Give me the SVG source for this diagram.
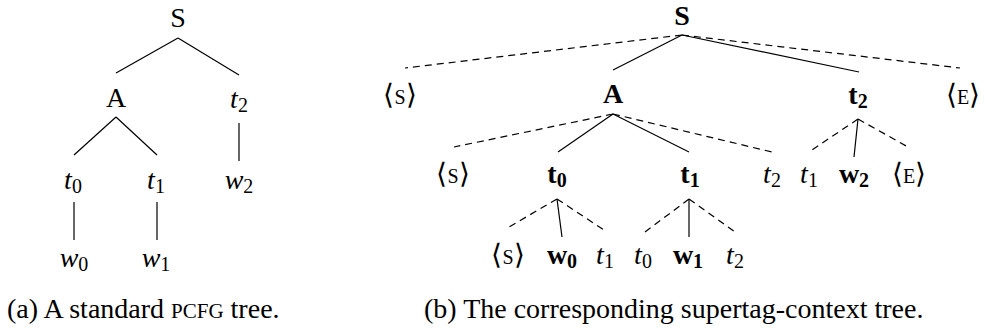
<svg xmlns="http://www.w3.org/2000/svg" width="985" height="335" viewBox="0 0 985 335" font-family="Liberation Serif">
<style>
.tx{font-size:28px;fill:#000;text-anchor:middle}
.it{font-style:italic}
.b{font-weight:bold}
.sub{font-size:20px;font-style:normal}
.sc{font-size:20px}
.cap{text-anchor:start}
.e{stroke:#000;stroke-width:1.2;fill:none}
.d{stroke:#000;stroke-width:1.2;fill:none;stroke-dasharray:7 5}
</style>
<rect width="985" height="335" fill="#fff"/>
<g id="connectors">
<line class="e" x1="178" y1="38" x2="116" y2="73"/>
<line class="e" x1="178" y1="38" x2="239" y2="75"/>
<line class="e" x1="116" y1="117" x2="74" y2="155"/>
<line class="e" x1="116" y1="117" x2="157" y2="155"/>
<line class="e" x1="239" y1="123" x2="239" y2="161"/>
<line class="e" x1="74" y1="202" x2="74" y2="240"/>
<line class="e" x1="157" y1="202" x2="157" y2="240"/>
<line class="d" x1="682" y1="35" x2="405" y2="68"/>
<line class="d" x1="682" y1="35" x2="960" y2="68"/>
<line class="e" x1="682" y1="35" x2="613" y2="70"/>
<line class="e" x1="682" y1="35" x2="859" y2="72"/>
<line class="d" x1="613" y1="114" x2="454" y2="147"/>
<line class="e" x1="613" y1="114" x2="558" y2="152"/>
<line class="e" x1="613" y1="114" x2="689" y2="152"/>
<line class="d" x1="613" y1="114" x2="772" y2="152"/>
<line class="d" x1="858" y1="119" x2="812" y2="150"/>
<line class="e" x1="858" y1="119" x2="854" y2="157"/>
<line class="d" x1="858" y1="119" x2="908" y2="147"/>
<line class="d" x1="557" y1="199" x2="509" y2="227"/>
<line class="e" x1="557" y1="199" x2="562" y2="237"/>
<line class="d" x1="557" y1="199" x2="604" y2="230"/>
<line class="d" x1="689" y1="199" x2="645" y2="232"/>
<line class="e" x1="689" y1="199" x2="689" y2="237"/>
<line class="d" x1="689" y1="199" x2="735" y2="232"/>
</g>
<g id="a-S"><text x="178" y="27" class="tx" font-family="Liberation Serif">S</text></g>
<g id="a-A"><text x="116" y="107" class="tx" font-family="Liberation Serif">A</text></g>
<g id="a-t2"><text x="239" y="108" class="tx it" font-family="Liberation Serif">t<tspan class="sub" dy="4">2</tspan></text></g>
<g id="a-t0"><text x="73" y="189" class="tx it" font-family="Liberation Serif">t<tspan class="sub" dy="4">0</tspan></text></g>
<g id="a-t1"><text x="156" y="189" class="tx it" font-family="Liberation Serif">t<tspan class="sub" dy="4">1</tspan></text></g>
<g id="a-w2"><text x="239" y="189" class="tx it" font-family="Liberation Serif">w<tspan class="sub" dy="4">2</tspan></text></g>
<g id="a-w0"><text x="74" y="267" class="tx it" font-family="Liberation Serif">w<tspan class="sub" dy="4">0</tspan></text></g>
<g id="a-w1"><text x="156" y="267" class="tx it" font-family="Liberation Serif">w<tspan class="sub" dy="4">1</tspan></text></g>
<g id="b-S"><text x="682" y="25" class="tx b" font-family="Liberation Serif">S</text></g>
<g id="b-s1"><text x="400" y="104" class="tx" font-family="Liberation Serif">⟨<tspan class="sc">S</tspan>⟩</text></g>
<g id="b-A"><text x="613" y="103" class="tx b" font-family="Liberation Serif">A</text></g>
<g id="b-t2"><text x="858" y="104" class="tx b" font-family="Liberation Serif">t<tspan class="sub" dy="4">2</tspan></text></g>
<g id="b-e1"><text x="963" y="104" class="tx" font-family="Liberation Serif">⟨<tspan class="sc">E</tspan>⟩</text></g>
<g id="b-s2"><text x="453" y="183" class="tx" font-family="Liberation Serif">⟨<tspan class="sc">S</tspan>⟩</text></g>
<g id="b-t0"><text x="557" y="183" class="tx b" font-family="Liberation Serif">t<tspan class="sub" dy="4">0</tspan></text></g>
<g id="b-t1"><text x="690" y="183" class="tx b" font-family="Liberation Serif">t<tspan class="sub" dy="4">1</tspan></text></g>
<g id="b-t2i"><text x="772" y="183" class="tx it" font-family="Liberation Serif">t<tspan class="sub" dy="4">2</tspan></text></g>
<g id="b-t1i"><text x="809" y="183" class="tx it" font-family="Liberation Serif">t<tspan class="sub" dy="4">1</tspan></text></g>
<g id="b-w2"><text x="854" y="183" class="tx b" font-family="Liberation Serif">w<tspan class="sub" dy="4">2</tspan></text></g>
<g id="b-e2"><text x="909" y="183" class="tx" font-family="Liberation Serif">⟨<tspan class="sc">E</tspan>⟩</text></g>
<g id="b-s3"><text x="508" y="264" class="tx" font-family="Liberation Serif">⟨<tspan class="sc">S</tspan>⟩</text></g>
<g id="b-w0"><text x="562" y="264" class="tx b" font-family="Liberation Serif">w<tspan class="sub" dy="4">0</tspan></text></g>
<g id="b-t1c"><text x="605" y="264" class="tx it" font-family="Liberation Serif">t<tspan class="sub" dy="4">1</tspan></text></g>
<g id="b-t0c"><text x="643" y="264" class="tx it" font-family="Liberation Serif">t<tspan class="sub" dy="4">0</tspan></text></g>
<g id="b-w1"><text x="688" y="264" class="tx b" font-family="Liberation Serif">w<tspan class="sub" dy="4">1</tspan></text></g>
<g id="b-t2c"><text x="735" y="264" class="tx it" font-family="Liberation Serif">t<tspan class="sub" dy="4">2</tspan></text></g>
<g id="captions">
<text x="7" y="318" class="tx cap" font-family="Liberation Serif">(a) A standard <tspan font-size="21">PCFG</tspan> tree.</text>
<text x="424" y="318" class="tx cap" font-family="Liberation Serif">(b) The corresponding supertag-context tree.</text>
</g>
</svg>
